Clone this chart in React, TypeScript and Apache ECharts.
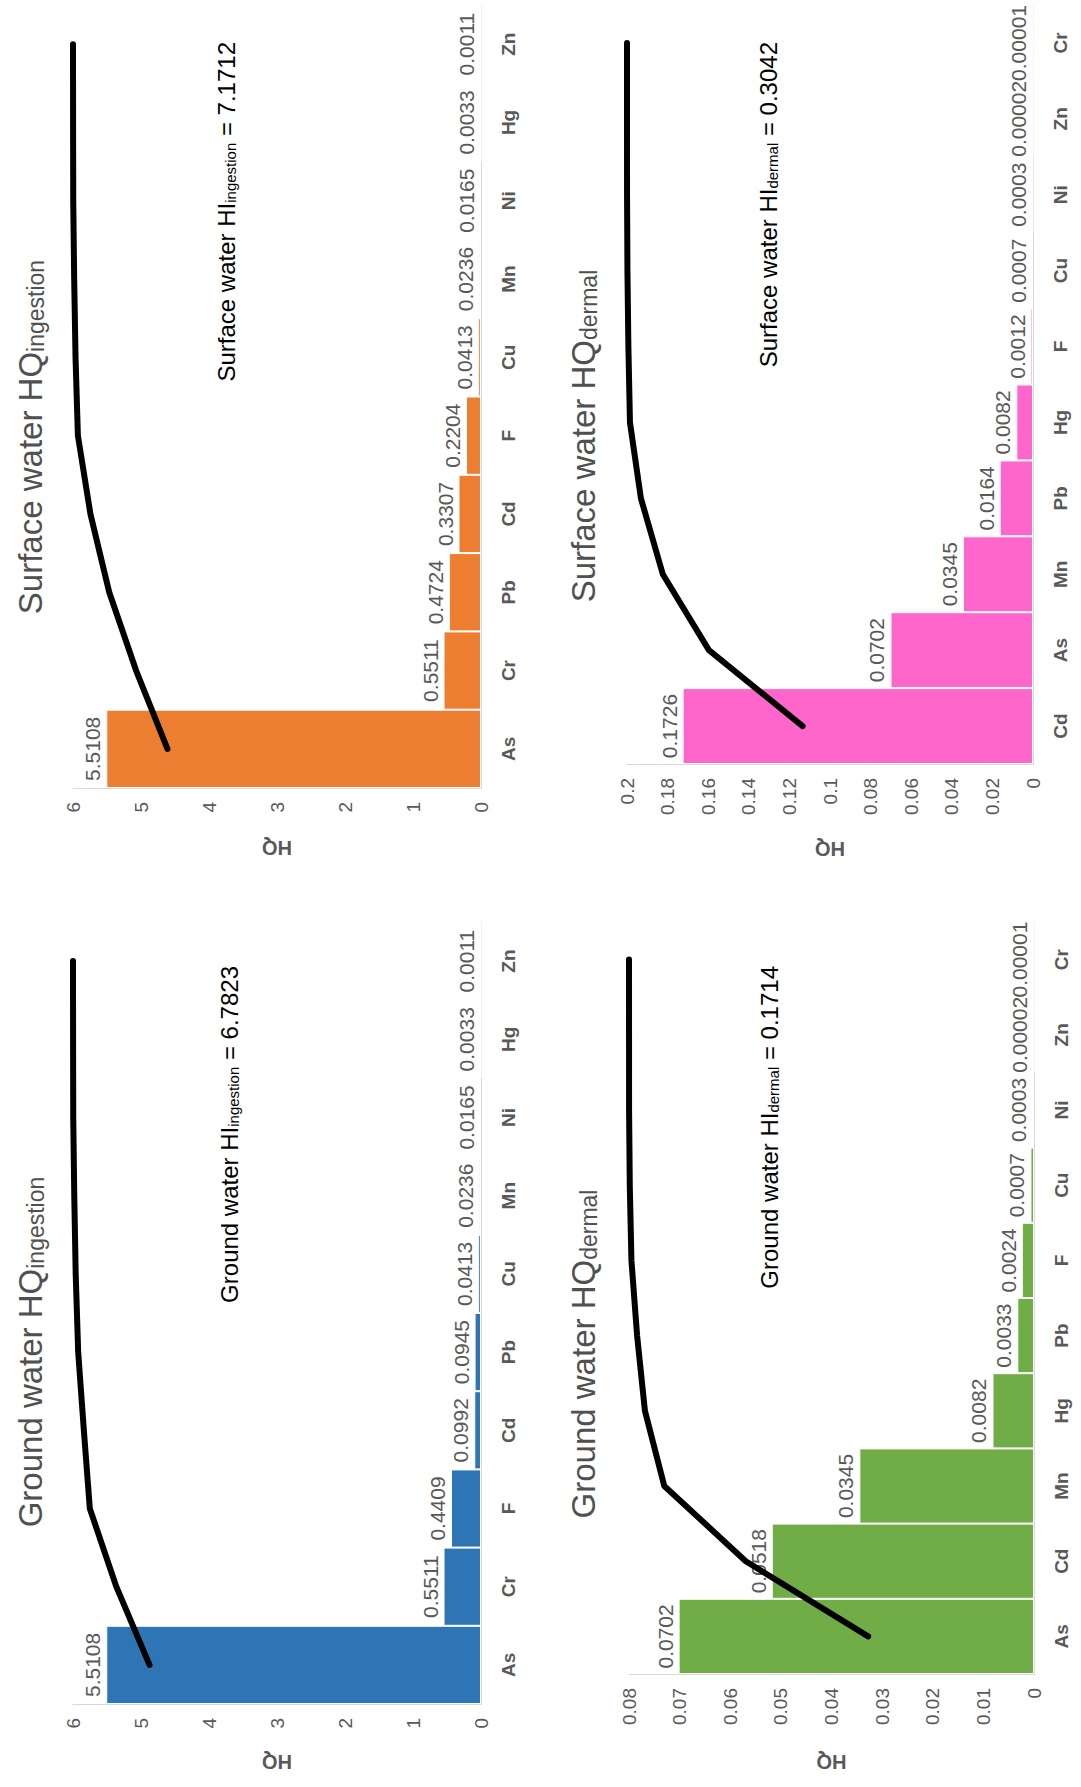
import React, { useEffect, useRef } from "react";
import * as echarts from "echarts";

// ---------- data ----------
const swIngCats = ["As", "Cr", "Pb", "Cd", "F", "Cu", "Mn", "Ni", "Hg", "Zn"];
const swIngHQ = [5.5108, 0.5511, 0.4724, 0.3307, 0.2204, 0.0413, 0.0236, 0.0165, 0.0033, 0.0011];
const swIngCum = [76.85, 84.53, 91.12, 95.73, 98.8, 99.38, 99.71, 99.94, 99.98, 100];

const swDerCats = ["Cd", "As", "Mn", "Pb", "Hg", "F", "Cu", "Ni", "Zn", "Cr"];
const swDerHQ = [0.1726, 0.0702, 0.0345, 0.0164, 0.0082, 0.0012, 0.0007, 0.0003, 0.00002, 0.00001];
const swDerCum = [56.75, 79.83, 91.18, 96.57, 99.27, 99.66, 99.89, 99.99, 99.997, 100];

const gwIngCats = ["As", "Cr", "F", "Cd", "Pb", "Cu", "Mn", "Ni", "Hg", "Zn"];
const gwIngHQ = [5.5108, 0.5511, 0.4409, 0.0992, 0.0945, 0.0413, 0.0236, 0.0165, 0.0033, 0.0011];
const gwIngCum = [81.25, 89.38, 95.88, 97.34, 98.73, 99.34, 99.69, 99.94, 99.98, 100];

const gwDerCats = ["As", "Cd", "Mn", "Hg", "Pb", "F", "Cu", "Ni", "Zn", "Cr"];
const gwDerHQ = [0.0702, 0.0518, 0.0345, 0.0082, 0.0033, 0.0024, 0.0007, 0.0003, 0.00002, 0.00001];
const gwDerCum = [40.95, 71.17, 91.29, 96.07, 98.0, 99.4, 99.81, 99.98, 99.99, 100];

const axisMax = [6, 0.2, 6, 0.08];
const axisStep = [1, 0.02, 1, 0.01];

const titles = [
  ["Surface water HQ", "ingestion"],
  ["Surface water HQ", "dermal"],
  ["Ground water HQ", "ingestion"],
  ["Ground water HQ", "dermal"],
];
const hiTexts = [
  ["Surface water HI", "ingestion", " = 7.1712"],
  ["Surface water HI", "dermal", " = 0.3042"],
  ["Ground water HI", "ingestion", " = 6.7823"],
  ["Ground water HI", "dermal", " = 0.1714"],
];

// ---------- layout / style ----------
const FONT = "'Liberation Sans', Arial, sans-serif";
const GRAY = "#595959";
const panels = [
  { cats: swIngCats, hq: swIngHQ, cum: swIngCum, color: "#ED7D31",
    grid: { left: 73, top: 5, width: 408, height: 783 }, nameGap: 50,
    title: { x: 27, y: 437 }, hi: { x: 223, y: 42 } },
  { cats: swDerCats, hq: swDerHQ, cum: swDerCum, color: "#FF66CC",
    grid: { left: 627, top: 5, width: 406, height: 759 }, nameGap: 75,
    title: { x: 580, y: 436 }, hi: { x: 765, y: 42 } },
  { cats: gwIngCats, hq: gwIngHQ, cum: gwIngCum, color: "#2E75B6",
    grid: { left: 73, top: 922, width: 408, height: 782 }, nameGap: 48,
    title: { x: 27, y: 1352 }, hi: { x: 226, y: 966 } },
  { cats: gwDerCats, hq: gwDerHQ, cum: gwDerCum, color: "#70AD47",
    grid: { left: 629, top: 922, width: 405, height: 752 }, nameGap: 78,
    title: { x: 580, y: 1354 }, hi: { x: 766, y: 966 } },
];

function buildOption() {
  const grid: any[] = [];
  const xAxis: any[] = [];
  const yAxis: any[] = [];
  const series: any[] = [];
  const graphic: any[] = [];

  panels.forEach((p, i) => {
    grid.push({ ...p.grid, containLabel: false, outerBoundsMode: "none" });
    xAxis.push({
      type: "value",
      gridIndex: i,
      inverse: true,
      min: 0,
      max: axisMax[i],
      interval: axisStep[i],
      position: "bottom",
      axisLine: { show: true, onZero: false, lineStyle: { color: "#D9D9D9", width: 1 } },
      axisTick: { show: false },
      splitLine: { show: false },
      axisLabel: { rotate: 90, margin: 14, color: GRAY, fontSize: 19, fontFamily: FONT },
      name: "HQ",
      nameLocation: "middle",
      nameGap: p.nameGap,
      nameRotate: 180,
      nameTextStyle: { color: GRAY, fontSize: 20, fontWeight: "bold", fontFamily: FONT },
    });
    xAxis.push({
      type: "value",
      gridIndex: i,
      inverse: true,
      min: 0,
      max: 100,
      position: "top",
      show: false,
    });
    yAxis.push({
      type: "category",
      gridIndex: i,
      data: p.cats,
      position: "right",
      axisLine: { show: true, onZero: false, lineStyle: { color: "#D9D9D9", width: 1 } },
      axisTick: { show: false },
      splitLine: { show: false },
      axisLabel: { rotate: 90, margin: 18, color: GRAY, fontSize: 19, fontWeight: "bold", fontFamily: FONT },
    });
    series.push({
      type: "bar",
      xAxisIndex: 2 * i,
      yAxisIndex: i,
      data: p.hq,
      barCategoryGap: "0%",
      itemStyle: { color: p.color, borderColor: "#FFFFFF", borderWidth: 1 },
      label: {
        show: true,
        position: "left",
        rotate: 90,
        align: "center",
        verticalAlign: "bottom",
        distance: 3,
        color: GRAY,
        fontSize: 21,
        fontFamily: FONT,
        formatter: (prm: any) => String(prm.value),
      },
      z: 2,
    });
    series.push({
      type: "line",
      xAxisIndex: 2 * i + 1,
      yAxisIndex: i,
      data: p.cum,
      symbol: "none",
      smooth: false,
      lineStyle: { color: "#000000", width: 6, cap: "round", join: "round" },
      z: 6,
    });

    const t = titles[i];
    graphic.push({
      type: "text",
      x: p.title.x,
      y: p.title.y,
      rotation: Math.PI / 2,
      style: {
        text: `{m|${t[0]}}{s|${t[1]}}`,
        align: "center",
        verticalAlign: "middle",
        rich: {
          m: { fontSize: 33, fontFamily: FONT, fill: "#505050", lineHeight: 40, verticalAlign: "bottom" },
          s: { fontSize: 23, fontFamily: FONT, fill: "#505050", lineHeight: 24, verticalAlign: "bottom" },
        },
      },
      z: 10,
    });
    const h = hiTexts[i];
    graphic.push({
      type: "text",
      x: p.hi.x,
      y: p.hi.y,
      rotation: Math.PI / 2,
      style: {
        text: `{m|${h[0]}}{s|${h[1]}}{m|${h[2]}}`,
        align: "right",
        verticalAlign: "middle",
        rich: {
          m: { fontSize: 24, fontFamily: FONT, fill: "#000000", lineHeight: 30, verticalAlign: "bottom" },
          s: { fontSize: 15, fontFamily: FONT, fill: "#000000", lineHeight: 16, verticalAlign: "bottom" },
        },
      },
      z: 10,
    });
  });

  return {
    animation: false,
    backgroundColor: "#FFFFFF",
    textStyle: { fontFamily: FONT },
    grid,
    xAxis,
    yAxis,
    series,
    graphic,
  };
}

export default function App() {
  const ref = useRef<HTMLDivElement>(null);
  useEffect(() => {
    if (!ref.current) return;
    const chart = echarts.init(ref.current, undefined, { renderer: "svg" });
    chart.setOption(buildOption() as any);
    return () => chart.dispose();
  }, []);
  return (
    <div
      ref={ref}
      style={{ position: "absolute", left: 0, top: 0, width: 1081, height: 1787, background: "#fff" }}
    />
  );
}
